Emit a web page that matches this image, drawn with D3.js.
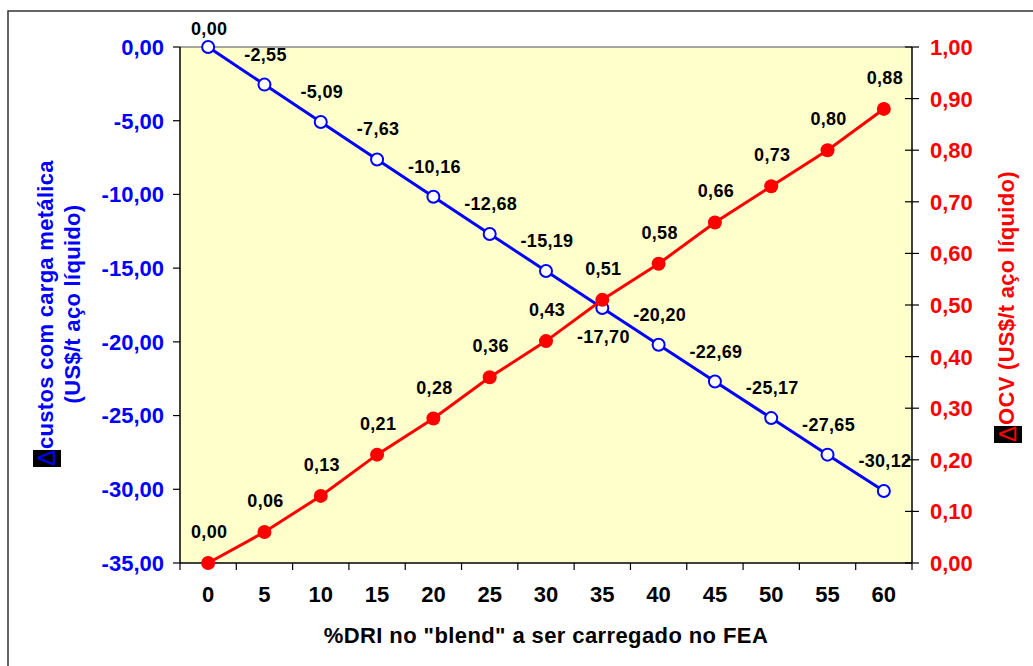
<!DOCTYPE html>
<html>
<head>
<meta charset="utf-8">
<script src="https://cdn.jsdelivr.net/npm/d3@7"></script>
<style>
  html, body { margin: 0; padding: 0; background: #fff; }
  svg { display: block; font-family: "Liberation Sans", Arial, sans-serif; font-weight: bold; }
</style>
</head>
<body>
<svg id="chart" width="1033" height="666"></svg>
<script>
// %DRI in the blend charged to the EAF
const driPercent = [0, 5, 10, 15, 20, 25, 30, 35, 40, 45, 50, 55, 60];
// Δ metallic charge cost (US$/t liquid steel)
const custoCarga = [0, -2.55, -5.09, -7.63, -10.16, -12.68, -15.19, -17.70, -20.20, -22.69, -25.17, -27.65, -30.12];
// Δ OCV (US$/t liquid steel)
const ocv = [0, 0.06, 0.13, 0.21, 0.28, 0.36, 0.43, 0.51, 0.58, 0.66, 0.73, 0.80, 0.88];
// axis tick values
const leftTicks = [0, -5, -10, -15, -20, -25, -30, -35];
const rightTicks = [0, 0.1, 0.2, 0.3, 0.4, 0.5, 0.6, 0.7, 0.8, 0.9, 1.0];

const BLUE = "#0000ff", RED = "#ff0000";
const svg = d3.select("#chart");
const m = { left: 180, right: 912, top: 47, bottom: 563 };

const fmt = v => d3.format(".2f")(v).replace("−", "-").replace(".", ",");

// outer frame
svg.append("rect").attr("x", 8).attr("y", 11).attr("width", 1040).attr("height", 680)
  .attr("fill", "none").attr("stroke", "#333").attr("stroke-width", 1.5);

const x = d3.scaleBand().domain(driPercent).range([m.left, m.right]);
const yL = d3.scaleLinear().domain([-35, 0]).range([m.bottom, m.top]);
const yR = d3.scaleLinear().domain([0, 1]).range([m.bottom, m.top]);
const cx = d => x(d) + x.bandwidth() / 2;

// plot area
svg.append("rect").attr("x", m.left).attr("y", m.top)
  .attr("width", m.right - m.left).attr("height", m.bottom - m.top)
  .attr("fill", "#ffffcc");
svg.append("line").attr("x1", m.left).attr("x2", m.right).attr("y1", m.top).attr("y2", m.top)
  .attr("stroke", "#888").attr("stroke-width", 1.5);

// bottom axis: ticks between categories
const gx = svg.append("g").attr("transform", `translate(0,${m.bottom})`);
gx.append("line").attr("x1", m.left).attr("x2", m.right).attr("stroke", "#000").attr("stroke-width", 1.5);
gx.selectAll(".tk").data(d3.range(driPercent.length + 1)).join("line")
  .attr("x1", i => m.left + i * x.step()).attr("x2", i => m.left + i * x.step())
  .attr("y1", 0).attr("y2", 7).attr("stroke", "#000").attr("stroke-width", 1.2);
gx.selectAll(".lb").data(driPercent).join("text")
  .attr("x", d => cx(d)).attr("y", 39).attr("text-anchor", "middle")
  .attr("font-size", 22).attr("fill", "#000").text(d => d);

// left axis
const gl = svg.append("g").attr("transform", `translate(${m.left},0)`);
gl.append("line").attr("y1", m.top).attr("y2", m.bottom).attr("stroke", "#000").attr("stroke-width", 1.5);
gl.selectAll(".tk").data(leftTicks).join("line")
  .attr("x1", -7).attr("x2", 0).attr("y1", d => yL(d)).attr("y2", d => yL(d))
  .attr("stroke", "#000").attr("stroke-width", 1.2);
gl.selectAll(".lb").data(leftTicks).join("text")
  .attr("x", -16).attr("y", d => yL(d)).attr("dy", "0.36em").attr("text-anchor", "end")
  .attr("font-size", 22).attr("fill", BLUE).text(d => fmt(d));

// right axis
const gr = svg.append("g").attr("transform", `translate(${m.right},0)`);
gr.append("line").attr("y1", m.top).attr("y2", m.bottom).attr("stroke", "#000").attr("stroke-width", 1.5);
gr.selectAll(".tk").data(rightTicks).join("line")
  .attr("x1", -7).attr("x2", 7).attr("y1", d => yR(d)).attr("y2", d => yR(d))
  .attr("stroke", "#000").attr("stroke-width", 1.2);
gr.selectAll(".lb").data(rightTicks).join("text")
  .attr("x", 18).attr("y", d => yR(d)).attr("dy", "0.36em").attr("text-anchor", "start")
  .attr("font-size", 22).attr("fill", RED).text(d => fmt(d));

// x axis title
svg.append("text").attr("x", (m.left + m.right) / 2).attr("y", 643)
  .attr("text-anchor", "middle").attr("font-size", 22).attr("letter-spacing", 0.4)
  .attr("fill", "#000")
  .text('%DRI no "blend" a ser carregado no FEA');

// rotated axis title with a highlighted Δ at its start
function deltaTitle(xPos, yBottom, text, color) {
  const g = svg.append("g").attr("transform", `translate(${xPos},${yBottom}) rotate(-90)`);
  const box = g.append("rect").attr("fill", "#000");
  const d = g.append("text").attr("x", 0).attr("y", 2).attr("font-size", 24)
    .attr("font-weight", "normal").attr("fill", color).text("\u0394");
  const dw = d.node().getComputedTextLength();
  box.attr("x", -1).attr("y", -20).attr("width", dw + 1).attr("height", 28);
  g.append("text").attr("x", dw + 1).attr("y", 0).attr("font-size", 22)
    .attr("letter-spacing", 0.3).attr("fill", color).text(text);
  return g;
}
deltaTitle(53, 466, "custos com carga metálica", BLUE);
svg.append("text").attr("transform", `translate(80,304) rotate(-90)`)
  .attr("text-anchor", "middle").attr("font-size", 22).attr("letter-spacing", 0.3)
  .attr("fill", BLUE).text("(US$/t aço líquido)");
deltaTitle(1014, 442, "OCV (US$/t aço líquido)", RED);

// blue series
const lineL = d3.line().x((d, i) => cx(driPercent[i])).y(d => yL(d));
svg.append("path").datum(custoCarga).attr("d", lineL)
  .attr("fill", "none").attr("stroke", BLUE).attr("stroke-width", 3);
svg.selectAll(".pb").data(custoCarga).join("circle")
  .attr("cx", (d, i) => cx(driPercent[i])).attr("cy", d => yL(d)).attr("r", 6)
  .attr("fill", "#fff").attr("stroke", BLUE).attr("stroke-width", 2);

// red series
const lineR = d3.line().x((d, i) => cx(driPercent[i])).y(d => yR(d));
svg.append("path").datum(ocv).attr("d", lineR)
  .attr("fill", "none").attr("stroke", RED).attr("stroke-width", 3);
svg.selectAll(".pr").data(ocv).join("circle")
  .attr("cx", (d, i) => cx(driPercent[i])).attr("cy", d => yR(d)).attr("r", 7)
  .attr("fill", RED);

// value labels: above each point, except the first (kept inside the frame)
// and the one at the crossing, which sits below its point
const blueLabelDy = i => i === 0 ? -12 : (driPercent[i] === 35 ? 35 : -24);
svg.selectAll(".vb").data(custoCarga).join("text")
  .attr("x", (d, i) => cx(driPercent[i]) + 1)
  .attr("y", (d, i) => yL(d) + blueLabelDy(i))
  .attr("text-anchor", "middle").attr("font-size", 18).attr("letter-spacing", 0.3)
  .attr("fill", "#000").text(d => fmt(d));
svg.selectAll(".vr").data(ocv).join("text")
  .attr("x", (d, i) => cx(driPercent[i]) + 1).attr("y", d => yR(d) - 25)
  .attr("text-anchor", "middle").attr("font-size", 18).attr("letter-spacing", 0.3)
  .attr("fill", "#000").text(d => fmt(d));
</script>
</body>
</html>
